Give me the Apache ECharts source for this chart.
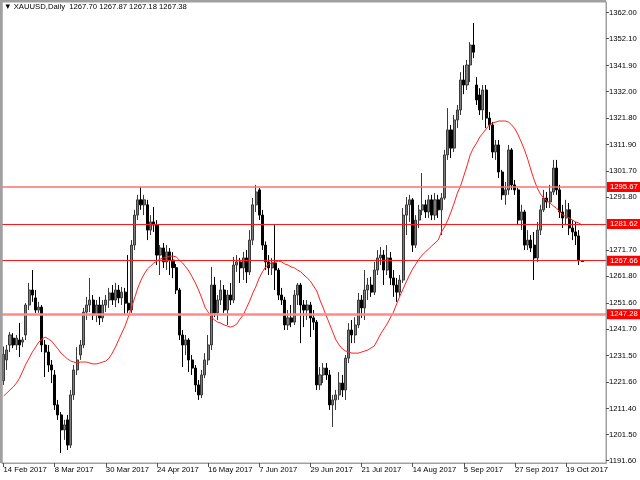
<!DOCTYPE html>
<html><head><meta charset="utf-8">
<script src="https://cdn.jsdelivr.net/npm/echarts@6.0.0/dist/echarts.min.js"></script>
<style>html,body{margin:0;padding:0;background:#fff}#c{width:640px;height:480px}</style>
</head><body><div id="c"></div>
<script>
const symbolName = 'XAUUSD,Daily';
const headerOHLC = ['1267.70', '1267.87', '1267.18', '1267.38'];
const holidays = ['2017-04-14'];
const futureSlots = 7;
const labelIndices = [0, 16, 32, 48, 64, 80, 96, 112, 128, 144, 160, 176];
const yTicks = [1191.60, 1201.50, 1211.40, 1221.60, 1231.50, 1241.70, 1251.60, 1261.80, 1271.70,
  1291.80, 1301.70, 1311.90, 1321.80, 1332.00, 1341.90, 1352.10, 1362.00];
const levels = [1295.67, 1281.62, 1267.66, 1247.28];
const bidPrice = 1267.38;

const opens = [1222.0,1229.9,1235.6,1238.2,1235.6,1237.5,1236.7,1239.4,1250.8,1256.5,
1253.5,1248.9,1250.0,1235.6,1232.9,1228.0,1224.2,1212.8,1209.0,1203.3,
1207.1,1197.5,1216.6,1226.1,1231.8,1235.6,1248.1,1250.8,1252.7,1247.0,
1250.8,1245.9,1250.8,1252.7,1255.4,1252.7,1256.5,1253.5,1255.7,1251.5,
1248.9,1273.6,1285.0,1290.8,1288.9,1288.9,1279.3,1282.4,1281.2,1269.8,
1272.5,1267.2,1271.0,1267.9,1265.0,1256.5,1239.4,1235.6,1237.5,1229.9,
1226.8,1220.4,1216.6,1224.2,1229.9,1235.6,1258.4,1247.8,1252.7,1256.5,
1248.9,1254.6,1252.7,1266.0,1267.2,1264.9,1268.7,1263.4,1275.5,1288.9,
1294.6,1285.0,1273.6,1267.2,1264.9,1266.8,1264.1,1254.6,1252.7,1243.2,
1245.9,1244.3,1254.6,1258.4,1250.8,1248.9,1250.8,1245.9,1244.3,1220.4,
1224.2,1226.8,1224.2,1212.8,1214.7,1216.6,1221.1,1218.5,1230.6,1241.3,
1239.4,1243.2,1252.7,1249.7,1256.5,1258.4,1255.7,1264.1,1268.7,1269.8,
1264.1,1268.7,1261.1,1258.4,1255.7,1260.3,1285.0,1288.9,1290.8,1273.6,
1283.1,1286.9,1288.9,1286.2,1290.8,1285.0,1290.8,1287.0,1291.5,1307.9,
1317.4,1310.5,1321.2,1325.0,1336.4,1334.5,1342.1,1349.7,1334.5,1330.7,
1325.0,1332.6,1321.9,1319.3,1309.0,1311.7,1301.4,1292.7,1294.6,1309.8,
1296.5,1294.6,1283.1,1286.2,1273.6,1275.5,1273.6,1268.7,1279.3,1287.0,
1291.5,1290.0,1293.8,1302.9,1294.6,1286.2,1283.9,1287.0,1280.1,1278.6,
1277.1,1267.70];

const closes = [1232.0,1233.7,1239.4,1235.6,1238.2,1235.6,1237.5,1250.8,1256.5,1254.6,
1248.9,1250.0,1235.6,1232.9,1228.0,1226.1,1212.8,1209.0,1203.3,1205.2,
1197.5,1216.6,1226.1,1229.9,1235.6,1248.1,1250.8,1252.7,1247.0,1250.8,
1245.9,1250.8,1252.7,1255.4,1252.7,1256.5,1253.5,1255.7,1251.5,1248.9,
1273.6,1285.0,1290.8,1288.9,1290.8,1279.3,1282.4,1281.2,1269.8,1272.5,
1267.2,1271.0,1267.9,1265.0,1256.5,1239.4,1235.6,1237.5,1229.9,1226.8,
1220.4,1216.6,1224.2,1229.9,1235.6,1258.4,1247.8,1252.7,1256.5,1248.9,
1254.6,1252.7,1266.0,1267.2,1264.9,1268.7,1263.4,1275.5,1288.9,1293.8,
1285.0,1273.6,1267.2,1264.9,1266.8,1264.1,1254.6,1252.7,1243.2,1245.9,
1244.3,1254.6,1258.4,1250.8,1248.9,1250.8,1245.9,1244.3,1220.4,1224.2,
1226.8,1224.2,1212.8,1214.7,1216.6,1221.1,1218.5,1230.6,1241.3,1239.4,
1243.2,1252.7,1249.7,1256.5,1258.4,1255.7,1264.1,1268.7,1269.8,1264.1,
1268.7,1261.1,1258.4,1255.7,1260.3,1285.0,1288.9,1290.8,1273.6,1283.1,
1286.9,1288.9,1286.2,1290.8,1285.0,1290.8,1287.0,1291.5,1307.9,1317.4,
1310.5,1321.2,1325.0,1336.4,1334.5,1342.1,1349.7,1347.0,1328.8,1325.0,
1332.6,1321.9,1319.3,1309.0,1311.7,1301.4,1292.7,1294.6,1309.8,1296.5,
1294.6,1283.1,1286.2,1273.6,1275.5,1272.5,1268.7,1279.3,1287.0,1291.5,
1290.0,1293.8,1302.9,1294.6,1286.2,1283.9,1287.0,1280.1,1278.6,1277.1,
1267.7,1267.38];

const lows = [1220.4,1226.1,1232.9,1234.4,1233.7,1231.0,1234.8,1237.5,1248.9,1252.0,
1247.8,1247.8,1232.9,1223.4,1225.3,1221.1,1210.9,1207.1,1194.5,1199.5,
1195.6,1196.4,1214.7,1224.2,1229.9,1234.4,1245.1,1248.1,1245.1,1244.3,
1243.2,1244.3,1248.1,1249.7,1250.8,1250.0,1251.5,1250.8,1247.0,1247.8,
1247.8,1271.7,1283.1,1287.0,1285.0,1275.5,1277.4,1278.6,1266.0,1262.2,
1264.9,1264.1,1262.2,1261.0,1255.0,1237.5,1227.2,1231.8,1225.3,1224.2,
1217.7,1214.7,1215.4,1223.0,1228.0,1233.7,1246.2,1245.1,1250.8,1247.8,
1243.2,1250.8,1251.5,1263.4,1259.2,1260.3,1259.2,1262.2,1273.6,1286.2,
1283.1,1271.7,1264.1,1262.2,1262.2,1256.5,1252.7,1250.8,1241.3,1241.3,
1242.4,1243.2,1250.8,1236.3,1242.4,1245.1,1238.6,1241.3,1218.5,1218.5,
1221.1,1222.3,1210.9,1204.4,1210.9,1214.7,1215.8,1214.7,1228.7,1236.3,
1236.3,1242.0,1245.9,1245.1,1252.7,1253.9,1254.6,1262.2,1266.0,1258.4,
1262.2,1258.4,1253.9,1252.0,1253.9,1259.2,1277.4,1282.4,1271.0,1272.5,
1280.1,1285.0,1283.9,1283.9,1283.1,1283.1,1283.9,1277.4,1290.8,1306.0,
1306.7,1309.0,1318.1,1323.1,1331.0,1332.6,1335.6,1344.7,1326.9,1323.1,
1321.2,1318.1,1317.4,1306.7,1306.0,1299.1,1290.8,1288.9,1292.7,1294.6,
1292.7,1281.2,1279.3,1271.7,1271.7,1271.0,1260.3,1267.2,1277.4,1286.2,
1287.7,1287.7,1292.7,1292.7,1283.9,1280.1,1281.2,1277.4,1275.5,1273.6,
1266.0,1267.18];

const highs = [1235.0,1235.6,1240.5,1240.1,1239.4,1244.0,1238.6,1251.5,1259.2,1264.1,
1256.5,1252.0,1250.8,1237.5,1235.6,1229.9,1226.1,1214.7,1210.1,1207.1,
1209.0,1218.5,1228.0,1234.8,1237.5,1249.7,1253.9,1261.1,1254.6,1252.7,
1253.9,1252.7,1254.6,1257.3,1258.4,1259.2,1258.4,1257.7,1257.3,1269.8,
1275.5,1287.0,1292.7,1295.7,1292.7,1290.8,1285.0,1288.1,1283.1,1273.6,
1274.4,1273.6,1272.5,1270.9,1266.4,1257.3,1241.3,1239.4,1238.2,1231.8,
1228.0,1222.3,1226.1,1232.5,1239.4,1265.3,1261.5,1254.6,1260.3,1258.4,
1256.5,1259.2,1269.1,1269.8,1268.7,1271.0,1271.7,1279.3,1291.5,1296.5,
1295.3,1287.0,1275.0,1269.8,1268.7,1281.2,1264.9,1257.3,1253.9,1248.9,
1250.8,1256.5,1259.2,1259.2,1252.7,1252.7,1252.0,1248.9,1245.1,1227.2,
1228.7,1228.7,1226.1,1216.6,1218.5,1225.3,1224.2,1231.8,1243.9,1245.1,
1246.2,1255.4,1254.6,1264.1,1261.1,1261.5,1267.2,1271.7,1272.9,1271.7,
1273.6,1271.0,1264.1,1261.1,1262.2,1287.7,1291.9,1292.7,1291.5,1285.0,
1288.9,1301.0,1290.8,1292.7,1292.7,1293.4,1292.7,1293.4,1309.8,1325.7,
1319.3,1323.1,1326.9,1339.4,1342.0,1344.0,1350.8,1358.1,1337.5,1333.3,
1334.5,1334.5,1324.2,1320.4,1313.6,1313.6,1302.2,1297.6,1311.7,1310.5,
1298.4,1295.3,1288.9,1287.0,1279.3,1277.4,1278.6,1282.4,1288.9,1294.6,
1293.8,1296.5,1306.0,1306.0,1296.5,1288.9,1290.8,1289.6,1283.1,1282.4,
1279.3,1267.87];

const maValues = [1216.2,1217.3,1218.5,1219.6,1221.1,1223.0,1225.7,1228.4,1230.6,1232.9,
1234.8,1236.7,1237.9,1238.6,1237.9,1237.1,1235.6,1234.1,1232.5,1231.4,
1230.3,1229.5,1229.1,1228.7,1229.1,1229.1,1229.1,1228.7,1228.4,1228.4,
1228.7,1229.1,1229.5,1230.6,1232.5,1234.8,1237.5,1240.2,1242.8,1246.2,
1249.7,1253.5,1257.3,1260.3,1262.6,1264.5,1265.6,1266.8,1267.5,1268.3,
1268.7,1269.1,1269.4,1269.4,1269.1,1267.9,1266.8,1265.3,1263.7,1261.5,
1259.2,1256.5,1253.5,1250.0,1248.1,1246.2,1245.1,1244.3,1243.9,1243.2,
1242.8,1242.4,1242.8,1243.6,1245.5,1247.0,1249.7,1252.3,1255.4,1258.0,
1261.1,1263.4,1265.3,1266.4,1266.8,1267.2,1267.5,1267.2,1266.4,1266.0,
1265.3,1264.9,1264.1,1263.4,1262.2,1261.1,1259.9,1258.0,1256.1,1252.7,
1249.7,1246.6,1243.6,1240.5,1237.5,1235.6,1234.1,1233.3,1232.9,1232.5,
1232.5,1232.5,1232.9,1233.3,1233.7,1234.5,1235.2,1237.5,1239.8,1241.7,
1243.6,1245.9,1248.1,1251.2,1254.2,1256.9,1259.6,1262.2,1264.5,1266.4,
1268.3,1269.8,1271.0,1272.1,1273.3,1274.4,1275.5,1278.6,1280.5,1283.1,
1286.2,1289.6,1293.4,1296.1,1299.9,1303.7,1307.9,1310.5,1312.4,1314.7,
1316.2,1317.8,1319.3,1320.0,1320.4,1320.8,1320.8,1320.8,1320.4,1319.3,
1317.8,1315.5,1312.8,1309.8,1306.3,1302.2,1298.4,1295.3,1293.0,1291.5,
1290.4,1289.6,1288.5,1287.7,1286.2,1285.1,1284.3,1283.9,1283.1,1282.4,
1282.0,1281.2];

// styles (kept apart from data)
const levelStyles = [
  {color: '#ff6f6f', width: 1.5},
  {color: '#ff1a1a', width: 1},
  {color: '#ff1a1a', width: 1},
  {color: '#ff8a8a', width: 2.5}
];

const monthNames = ['Jan','Feb','Mar','Apr','May','Jun','Jul','Aug','Sep','Oct','Nov','Dec'];
const dates = [];
(function () {
  const d = new Date(Date.UTC(2017, 1, 14));
  while (dates.length < opens.length + futureSlots) {
    const dow = d.getUTCDay();
    const iso = d.toISOString().slice(0, 10);
    if (dow !== 0 && dow !== 6 && holidays.indexOf(iso) < 0) {
      dates.push(d.getUTCDate() + ' ' + monthNames[d.getUTCMonth()] + ' ' + d.getUTCFullYear());
    }
    d.setUTCDate(d.getUTCDate() + 1);
  }
})();

const candles = opens.map((o, i) => [o, closes[i], lows[i], highs[i]]);
const FONT = '"Liberation Sans", "DejaVu Sans", sans-serif';
const FS = 7.7;

const markData = [{
  yAxis: bidPrice,
  lineStyle: {opacity: 0, width: 0},
  label: {show: true, position: 'end', distance: 1, formatter: '1267.38',
    backgroundColor: '#000', color: '#000', padding: [1, 3, 2, 3], fontSize: FS, fontFamily: FONT}
}].concat(levels.map((v, k) => ({
  yAxis: v,
  lineStyle: {color: levelStyles[k].color, width: levelStyles[k].width, type: 'solid'},
  label: {show: true, position: 'end', distance: 1, formatter: v.toFixed(2),
    backgroundColor: '#ff0000', color: '#ffffff', padding: [1, 3, 1, 3], fontSize: FS, fontFamily: FONT}
})));

const chart = echarts.init(document.getElementById('c'), null, {renderer: 'canvas'});
chart.setOption({
  animation: false,
  backgroundColor: '#ffffff',
  grid: {left: 2, right: 34, top: 2, bottom: 17, show: true, borderColor: '#a0a0a0', borderWidth: 1, containLabel: false},
  xAxis: {
    type: 'category', data: dates, boundaryGap: true,
    axisLine: {show: true, lineStyle: {color: '#a0a0a0', width: 1}},
    axisTick: {show: true, alignWithLabel: true, length: 4, interval: (i) => labelIndices.indexOf(i) >= 0, lineStyle: {color: '#505050'}},
    axisLabel: {interval: (i) => labelIndices.indexOf(i) >= 0, align: 'left', margin: 3, fontSize: FS, fontFamily: FONT, color: '#000'},
    splitLine: {show: false}
  },
  yAxis: {
    type: 'value', position: 'right', min: 1190.70, max: 1366.07, scale: true,
    axisLine: {show: true, lineStyle: {color: '#a0a0a0', width: 1}},
    axisTick: {show: true, length: 3, customValues: yTicks, lineStyle: {color: '#505050'}},
    axisLabel: {customValues: yTicks, formatter: (v) => v.toFixed(2), fontSize: FS, fontFamily: FONT, color: '#000', margin: 3},
    splitLine: {show: false}
  },
  graphic: [
    {type: 'rect', shape: {x: 0, y: 0, width: 2.5, height: 463}, style: {fill: '#a0a0a0'}, z: 100},
    {type: 'rect', shape: {x: 0, y: 0, width: 606, height: 2}, style: {fill: '#a0a0a0'}, z: 100},
    {type: 'text', left: 4, top: 3, z: 100,
      style: {text: '\u25BC ' + symbolName + '  ' + headerOHLC.join(' '), font: FS + 'px ' + FONT, fill: '#000'}}
  ],
  series: [
    {
      type: 'candlestick', data: candles, barWidth: '80%',
      itemStyle: {color: '#7c7c7c', color0: '#000000', borderColor: '#3a3a3a', borderColor0: '#000000', borderWidth: 1},
      z: 2
    },
    {
      type: 'line', data: maValues, symbol: 'none', smooth: false, z: 3,
      lineStyle: {color: '#ff2020', width: 1},
      markLine: {silent: true, symbol: ['none', 'none'], animation: false, data: markData}
    }
  ]
});
</script>
</body></html>
